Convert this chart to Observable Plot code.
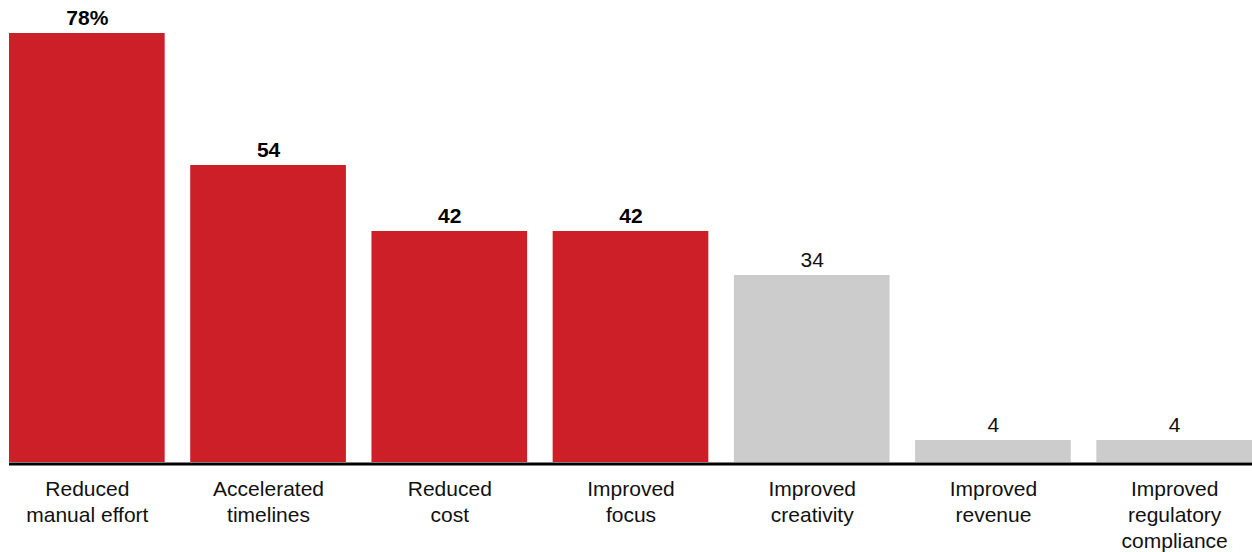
<!DOCTYPE html>
<html>
<head>
<meta charset="utf-8">
<script src="https://cdn.jsdelivr.net/npm/d3@7"></script>
<script src="https://cdn.jsdelivr.net/npm/@observablehq/plot@0.6"></script>
<style>
  html, body { margin: 0; padding: 0; background: #fff; }
</style>
</head>
<body>
<div id="chart"></div>
<script>
const categories = [
  "Reduced\nmanual effort",
  "Accelerated\ntimelines",
  "Reduced\ncost",
  "Improved\nfocus",
  "Improved\ncreativity",
  "Improved\nrevenue",
  "Improved\nregulatory\ncompliance"
];
const values = [78, 54, 42, 42, 34, 4, 4];
const valueLabels = ["78%", "54", "42", "42", "34", "4", "4"];
const highlighted = [true, true, true, true, false, false, false];

const data = categories.map((c, i) => ({
  category: c,
  value: values[i],
  label: valueLabels[i],
  hi: highlighted[i]
}));

const chart = Plot.plot({
  width: 1252,
  height: 552,
  marginLeft: 9,
  marginRight: 0,
  marginTop: 0,
  marginBottom: 0,
  style: { fontFamily: "'Liberation Sans', Arial, sans-serif", background: "#fff" },
  x: { domain: categories, range: [9, 1252], paddingInner: 0.141, paddingOuter: 0, round: false, axis: null },
  y: { domain: [0, 78], range: [462, 33], axis: null },
  marks: [
    Plot.barY(data, { x: "category", y: "value", fill: d => d.hi ? "#CC1F27" : "#CCCCCC" }),
    Plot.ruleY([0], { stroke: "#000", strokeWidth: 3, dy: 1.5 }),
    Plot.text(data.filter(d => d.hi), { x: "category", y: "value", text: "label", lineAnchor: "bottom", dy: -9, fontSize: 21, fontWeight: "bold", fill: "#000" }),
    Plot.text(data.filter(d => !d.hi), { x: "category", y: "value", text: "label", lineAnchor: "bottom", dy: -9, fontSize: 21, fill: "#111" }),
    Plot.text(data, { x: "category", y: 0, text: "category", lineAnchor: "top", dy: 15, fontSize: 21, lineHeight: 1.238, fill: "#111" })
  ]
});
document.getElementById("chart").appendChild(chart);
</script>
</body>
</html>
